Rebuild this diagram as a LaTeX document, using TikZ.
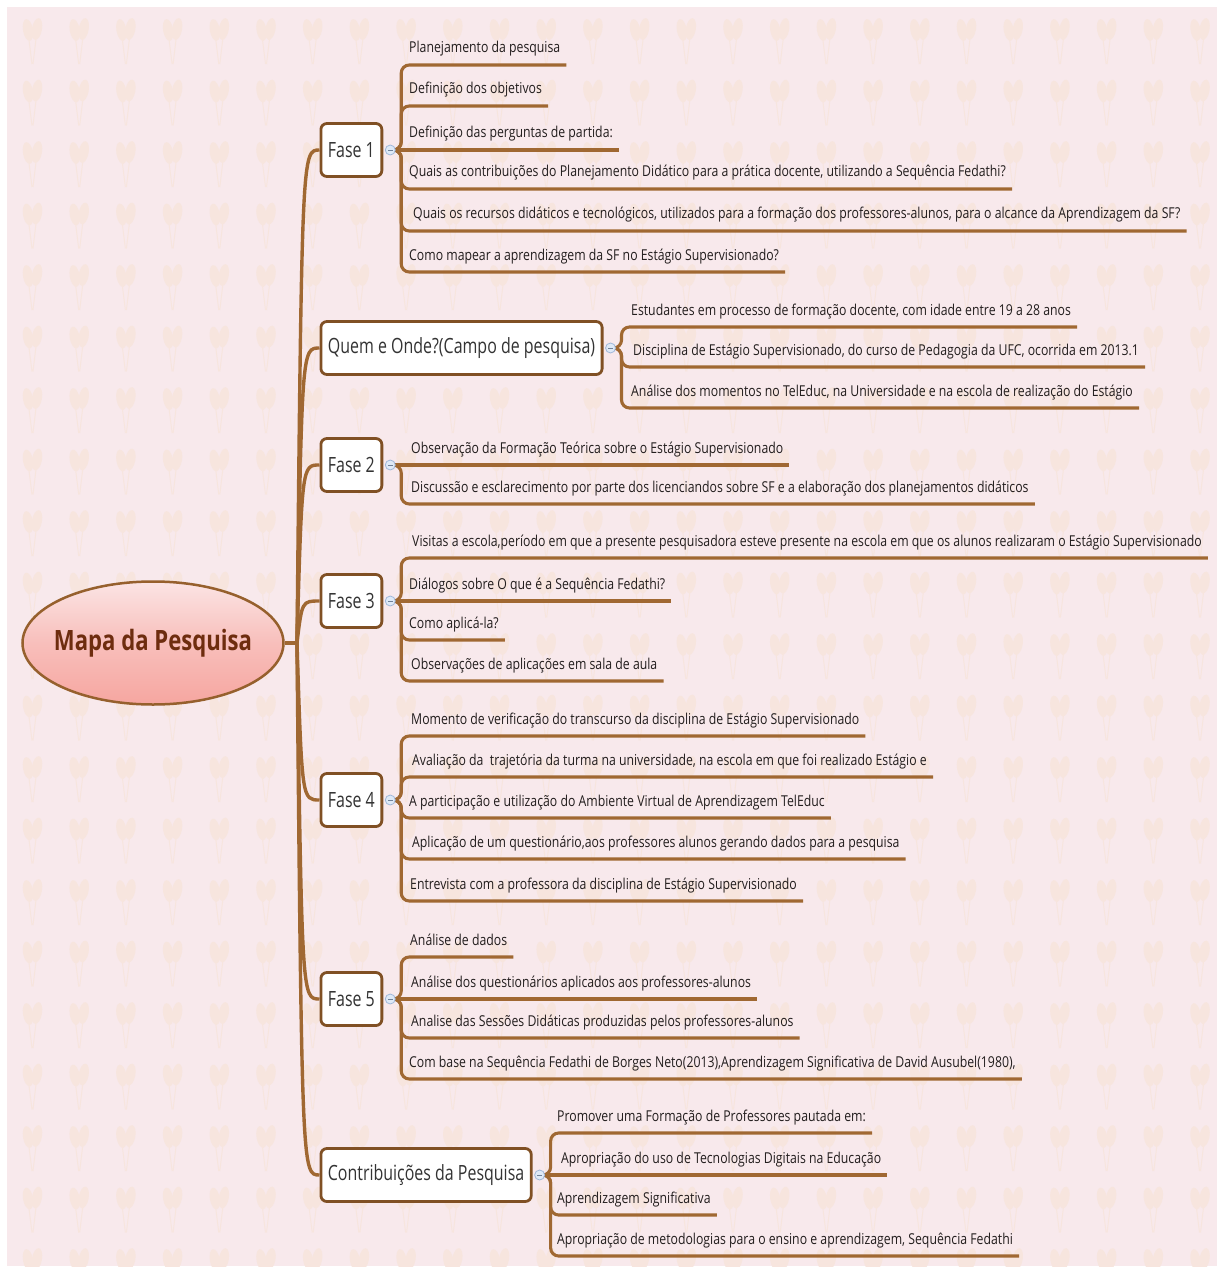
\documentclass[tikz,border=0pt]{standalone}
\usepackage{fontspec}
\setmainfont{Open Sans}
\newfontfamily\leaffont{Open Sans}[FakeStretch=0.818]
\newfontfamily\boxfont{Open Sans}[FakeStretch=0.76]
\newfontfamily\rootfont{Open Sans}[FakeStretch=0.79]
\usetikzlibrary{calc,shapes.geometric}

\definecolor{bgpink}{RGB}{248,233,236}
\definecolor{motif}{RGB}{247,229,222}
\definecolor{linebrown}{RGB}{160,104,50}
\definecolor{boxbrown}{RGB}{128,80,36}
\definecolor{rootedge}{RGB}{150,96,45}
\definecolor{roottext}{RGB}{110,45,15}
\definecolor{rootlight}{RGB}{251,228,228}
\definecolor{rootdark}{RGB}{246,166,160}
\definecolor{markfill}{RGB}{222,233,247}
\definecolor{markedge}{RGB}{160,184,218}
\definecolor{leaftext}{RGB}{35,30,30}

\tikzset{
  topic/.style={draw=boxbrown, line width=2.8pt, fill=white, rounded corners=6pt,
    minimum height=53pt, minimum width=60pt, inner xsep=7pt, inner ysep=0pt, anchor=west,
    font=\boxfont\fontsize{21}{21}\selectfont, text=black!80},
  leaf/.style={anchor=base west, inner sep=0pt,
    font=\leaffont\fontsize{15}{15}\selectfont, text=leaftext},
  branch/.style={draw=linebrown, line width=3.4pt},
  sub/.style={draw=linebrown, line width=3.1pt, rounded corners=8pt},
  marker/.style={circle, draw=markedge, fill=markfill, minimum size=10pt, inner sep=0pt,
    line width=0.8pt,
    path picture={\draw[markedge!70!black, line width=0.7pt]
      ([xshift=-2.5pt]path picture bounding box.center) --
      ([xshift=2.5pt]path picture bounding box.center);}},
  balloon/.pic={
    \fill[motif] (-4,0) ellipse [x radius=5, y radius=11, rotate=10];
    \fill[motif] (5,-1) ellipse [x radius=5, y radius=11, rotate=-10];
    \draw[motif, line width=1pt] (-3,10) -- (0,34) (4,9) -- (1,34);
  },
}

% child item: underline reached by a rounded elbow from the marker
\newcommand{\mapleaf}[5]{%
  \node[leaf] (#2) at (#3,#4-12) {#5};
  \draw[sub] (#1.center) -- ++(11,0) |- ($(#2.base east)+(6,12)$);
}
% child item lying level with its marker
\newcommand{\mapleafflat}[5]{%
  \node[leaf] (#2) at (#3,#4-12) {#5};
  \draw[sub] (#1.center) -- ($(#2.base east)+(6,12)$);
}

\begin{document}
\begin{tikzpicture}[x=1pt,y=-1pt]
\useasboundingbox (0,0) rectangle (1219,1273);
\fill[white] (0,0) rectangle (1219,1273);
\fill[bgpink] (7,7) rectangle (1217,1266);

% faint wallpaper motif
\begin{scope}
  \clip (7,7) rectangle (1217,1266);
  \foreach \i in {0,...,25}
    \foreach \j in {0,...,20}
      \pic at ({32+46.7*\i},{30+61.5*\j}) {balloon};
\end{scope}

% central topic
\node[ellipse, draw=rootedge, line width=2.5pt, top color=rootlight, bottom color=rootdark,
      middle color=rootdark!60!rootlight,
      minimum width=261pt, minimum height=123pt, inner sep=0pt,
      font=\rootfont\bfseries\fontsize{28}{28}\selectfont, text=roottext]
  (root) at (153,643) {\makebox[0pt]{Mapa da Pesquisa}};
\coordinate (trunk) at (297,643);

% main topics
\node[topic] (f1) at (319.5,150) {Fase 1};
\node[topic] (qo) at (319.5,348) {Quem e Onde?(Campo de pesquisa)};
\node[topic] (f2) at (319.5,465) {Fase 2};
\node[topic] (f3) at (319.5,601) {Fase 3};
\node[topic] (f4) at (319.5,800) {Fase 4};
\node[topic] (f5) at (319.5,999) {Fase 5};
\node[topic] (ct) at (319.5,1175) {Contribuições da Pesquisa};

% branches from the central topic
\draw[branch] (root.east) -- (trunk);
\foreach \t in {f1,qo,f2,f3,f4,f5,ct}
  \draw[branch] (trunk) .. controls ($(trunk |- \t.west)+(5,0)$) .. (\t.west);

% collapse marker positions (markers drawn last)
\foreach \t/\m in {f1/m1,qo/m2,f2/m3,f3/m4,f4/m5,f5/m6,ct/m7}
  \coordinate (\m) at ($(\t.east)+(7,0)$);

% Fase 1
\mapleaf{m1}{c11}{409}{65}{Planejamento da pesquisa}
\mapleaf{m1}{c12}{409}{106}{Definição dos objetivos}
\mapleafflat{m1}{c13}{409}{150}{Definição das perguntas de partida:}
\mapleaf{m1}{c14}{409}{189}{Quais as contribuições do Planejamento Didático para a prática docente, utilizando a Sequência Fedathi?}
\mapleaf{m1}{c15}{413}{231}{Quais os recursos didáticos e tecnológicos, utilizados para a formação dos professores-alunos, para o alcance da Aprendizagem da SF?}
\mapleaf{m1}{c16}{409}{272}{Como mapear a aprendizagem da SF no Estágio Supervisionado?}

% Quem e Onde
\mapleaf{m2}{c21}{631}{327}{Estudantes em processo de formação docente, com idade entre 19 a 28 anos}
\mapleaf{m2}{c22}{633}{367}{Disciplina de Estágio Supervisionado, do curso de Pedagogia da UFC, ocorrida em 2013.1}
\mapleaf{m2}{c23}{631}{408}{Análise dos momentos no TelEduc, na Universidade e na escola de realização do Estágio}

% Fase 2
\mapleafflat{m3}{c31}{411}{465}{Observação da Formação Teórica sobre o Estágio Supervisionado}
\mapleaf{m3}{c32}{411}{504}{Discussão e esclarecimento por parte dos licenciandos sobre SF e a elaboração dos planejamentos didáticos}

% Fase 3
\mapleaf{m4}{c41}{412}{558}{Visitas a escola,período em que a presente pesquisadora esteve presente na escola em que os alunos realizaram o Estágio Supervisionado}
\mapleafflat{m4}{c42}{409}{601}{Diálogos sobre O que é a Sequência Fedathi?}
\mapleaf{m4}{c43}{409}{640}{Como aplicá-la?}
\mapleaf{m4}{c44}{411}{681}{Observações de aplicações em sala de aula}

% Fase 4
\mapleaf{m5}{c51}{411}{736}{Momento de verificação do transcurso da disciplina de Estágio Supervisionado}
\mapleaf{m5}{c52}{412}{777}{Avaliação da\ \ trajetória da turma na universidade, na escola em que foi realizado Estágio e}
\mapleaf{m5}{c53}{409}{818}{A participação e utilização do Ambiente Virtual de Aprendizagem TelEduc}
\mapleaf{m5}{c54}{412}{859}{Aplicação de um questionário,aos professores alunos gerando dados para a pesquisa}
\mapleaf{m5}{c55}{410}{901}{Entrevista com a professora da disciplina de Estágio Supervisionado}

% Fase 5
\mapleaf{m6}{c61}{410}{957}{Análise de dados}
\mapleafflat{m6}{c62}{411}{999}{Análise dos questionários aplicados aos professores-alunos}
\mapleaf{m6}{c63}{411}{1038}{Analise das Sessões Didáticas produzidas pelos professores-alunos}
\mapleaf{m6}{c64}{409}{1079}{Com base na Sequência Fedathi de Borges Neto(2013),Aprendizagem Significativa de David Ausubel(1980),}

% Contribuições
\mapleaf{m7}{c71}{557}{1133}{Promover uma Formação de Professores pautada em:}
\mapleafflat{m7}{c72}{561}{1175}{Apropriação do uso de Tecnologias Digitais na Educação}
\mapleaf{m7}{c73}{557}{1215}{Aprendizagem Significativa}
\mapleaf{m7}{c74}{557}{1256}{Apropriação de metodologias para o ensino e aprendizagem, Sequência Fedathi}

% markers on top of the line starts
\foreach \m in {m1,m2,m3,m4,m5,m6,m7}
  \node[marker] at (\m) {};
\end{tikzpicture}
\end{document}
